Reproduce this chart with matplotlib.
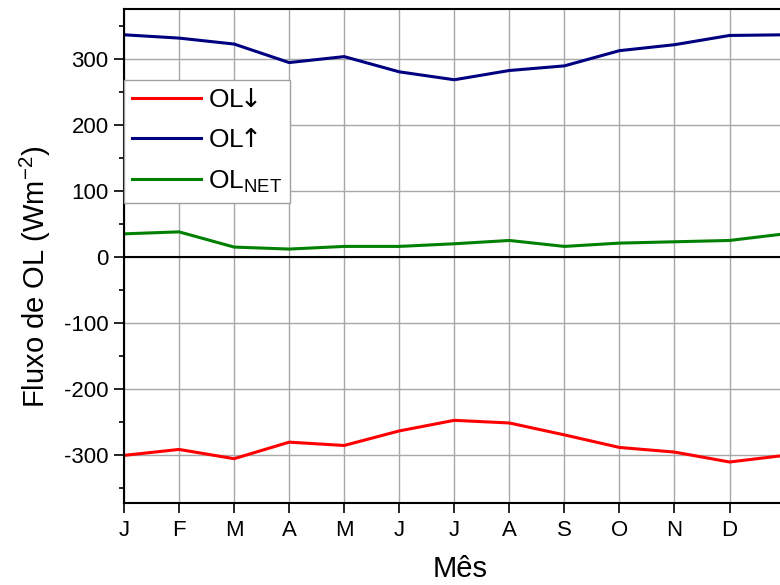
import numpy as np
import matplotlib.pyplot as plt

plt.rcParams['font.family'] = ['Liberation Sans', 'DejaVu Sans']
plt.rcParams['mathtext.fontset'] = 'custom'
plt.rcParams['mathtext.rm'] = 'Liberation Sans'
plt.rcParams['mathtext.sf'] = 'DejaVu Sans'
plt.rcParams['axes.unicode_minus'] = False

# Meses (o ultimo ponto repete janeiro)
meses = ["J", "F", "M", "A", "M", "J", "J", "A", "S", "O", "N", "D"]
ol_down = [-300, -291, -305, -280, -285, -263, -247, -251, -269, -288, -295, -310, -300]
ol_up = [336, 331, 322, 294, 303, 280, 268, 282, 289, 312, 321, 335, 336]
ol_net = [35, 38, 15, 12, 16, 16, 20, 25, 16, 21, 23, 25, 35]

x = np.arange(len(ol_down))

fig = plt.figure(figsize=(7.8, 5.85), dpi=100)
ax = fig.add_axes([124 / 780, 1 - 503 / 585, 1 - 124 / 780 + 0.02, 494 / 585])

ax.plot(x, ol_down, color="#ff0000", lw=2.2, label=r"OL$\!\!\mathsf{\downarrow}$")
ax.plot(x, ol_up, color="#000080", lw=2.2, label=r"OL$\!\!\mathsf{\uparrow}$")
ax.plot(x, ol_net, color="#008000", lw=2.2, label=r"OL$_\mathregular{NET}$")

ax.axhline(0, color="black", lw=1.5, zorder=1)

ax.set_xlim(0, 12.2)
ax.set_ylim(-372, 375)
ax.set_xticks(np.arange(12))
ax.set_xticklabels(meses)
ax.set_yticks([-300, -200, -100, 0, 100, 200, 300])
ax.set_yticks(np.arange(-350, 351, 100), minor=True)

ax.grid(True, which="major", color="#a8a8a8", lw=1.0)
ax.set_axisbelow(True)

ax.tick_params(axis="both", which="major", direction="out", length=7, width=1.2,
               labelsize=16, colors="black")
ax.tick_params(axis="y", which="minor", direction="out", length=3.5, width=1.2)
ax.tick_params(axis="x", pad=5)
ax.tick_params(axis="y", pad=4)

for s in ax.spines.values():
    s.set_linewidth(1.5)

ax.set_xlabel("Mês", fontsize=21, labelpad=10)
fig.text(35 / 780, 1 - 277 / 585, r"Fluxo de OL (Wm$^\mathregular{-2}$)",
         fontsize=21, rotation=90, ha="center", va="center")

leg = ax.legend(loc="upper left", bbox_to_anchor=(0, (503 - 80) / 494),
                borderaxespad=0, fontsize=19, handlelength=2.6,
                handletextpad=0.3, borderpad=0.3, labelspacing=0.62,
                fancybox=False, framealpha=1, edgecolor="#a0a0a0")
leg.get_frame().set_linewidth(1.0)

fig.savefig("out.png", dpi=100)
